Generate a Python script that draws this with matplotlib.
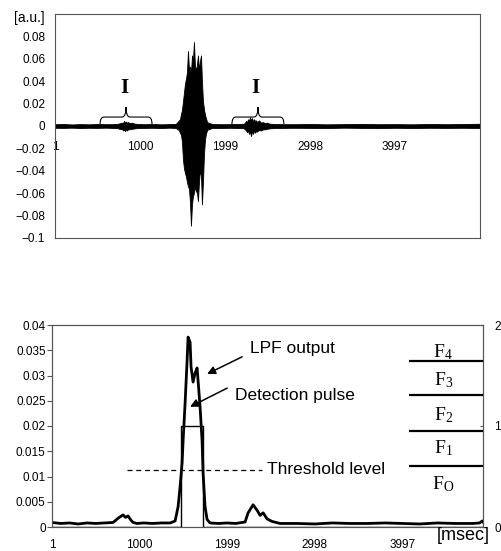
import matplotlib
matplotlib.use("Agg")
import matplotlib.pyplot as plt
from matplotlib.path import Path
from matplotlib.patches import PathPatch

plt.rcParams['font.family'] = ['Liberation Sans', 'DejaVu Sans']
plt.rcParams['mathtext.fontset'] = 'custom'
plt.rcParams['mathtext.rm'] = 'Liberation Serif'
plt.rcParams['mathtext.it'] = 'Liberation Serif'
plt.rcParams['axes.unicode_minus'] = True

# ---------------- data: top waveform envelope ----------------
wave_x = [1, 100, 200, 300, 400, 500, 600, 700,
          741, 765, 788, 800, 812, 824, 835, 847, 859, 882, 906, 930, 953, 977,
          1050, 1150, 1250, 1350, 1420,
          1446, 1458, 1470, 1482, 1493, 1505, 1517, 1529, 1540, 1552, 1564, 1576,
          1587, 1599, 1611, 1622, 1634, 1646, 1658, 1670, 1681, 1693, 1705, 1717,
          1728, 1740, 1752, 1764, 1775, 1787, 1799,
          1850, 1950, 2050, 2150, 2220,
          2234, 2246, 2258, 2270, 2281, 2293, 2305, 2317, 2328, 2340, 2352, 2364, 2375, 2399, 2422, 2446, 2469, 2493, 2516, 2540,
          2600, 2800, 3000, 3200, 3400, 3600, 3800, 4000, 4200, 4400, 4600, 4800, 4996]
wave_hi = [0.0016, 0.0018, 0.0014, 0.0017, 0.0015, 0.0018, 0.0016, 0.0017,
           0.002, 0.0025, 0.003, 0.0025, 0.0045, 0.003, 0.004, 0.0028, 0.0035, 0.0025, 0.003, 0.0022, 0.002, 0.0018,
           0.0016, 0.0018, 0.0015, 0.0017, 0.0018,
           0.004, 0.005, 0.006, 0.011, 0.014, 0.022, 0.030, 0.038, 0.042, 0.048, 0.067, 0.050,
           0.053, 0.048, 0.063, 0.058, 0.075, 0.053, 0.050, 0.055, 0.063, 0.050, 0.058, 0.063,
           0.040, 0.022, 0.015, 0.010, 0.007, 0.004, 0.003,
           0.0018, 0.0016, 0.0017, 0.0018, 0.002,
           0.003, 0.0045, 0.0035, 0.006, 0.0045, 0.008, 0.005, 0.007, 0.004, 0.006, 0.0045, 0.005, 0.0035, 0.005, 0.003, 0.0035, 0.0025, 0.003, 0.0022, 0.002,
           0.0017, 0.0016, 0.0018, 0.0015, 0.0017, 0.0019, 0.0016, 0.0017, 0.0015, 0.0018, 0.0016, 0.0018, 0.002]
wave_lo = [-0.0016, -0.0017, -0.0015, -0.0018, -0.0016, -0.0017, -0.0015, -0.0018,
           -0.002, -0.0028, -0.0025, -0.004, -0.003, -0.0045, -0.0032, -0.004, -0.003, -0.0028, -0.0025, -0.0022, -0.002, -0.0018,
           -0.0017, -0.0016, -0.0018, -0.0015, -0.0018,
           -0.003, -0.004, -0.006, -0.008, -0.014, -0.030, -0.038, -0.042, -0.045, -0.050, -0.054, -0.056,
           -0.068, -0.089, -0.070, -0.063, -0.060, -0.054, -0.058, -0.060, -0.067, -0.050, -0.039, -0.045,
           -0.070, -0.050, -0.025, -0.012, -0.007, -0.004, -0.003,
           -0.0017, -0.0018, -0.0016, -0.0018, -0.002,
           -0.003, -0.004, -0.0055, -0.004, -0.007, -0.005, -0.009, -0.0045, -0.007, -0.004, -0.006, -0.0045, -0.005, -0.0035, -0.004, -0.003, -0.003, -0.0025, -0.0022, -0.002,
           -0.0018, -0.0016, -0.0017, -0.0018, -0.0015, -0.0017, -0.0019, -0.0016, -0.0018, -0.0016, -0.0017, -0.0016, -0.0018]

# braces and markers (top)
brace_centers = [836, 2386]
brace_halfwidth = 305
brace_levels = (0.0018, 0.008, 0.017)   # tip, flat, peak
marker_x = [812, 2351]
marker_y = 0.034

x_ticks = [1, 1000, 1999, 2998, 3997]
x_ticklabels = ['1', '1000', '1999', '2998', '3997']
top_yticks = [-0.1, -0.08, -0.06, -0.04, -0.02, 0, 0.02, 0.04, 0.06, 0.08]
top_yticklabels = ['\u22120.1', '\u22120.08', '\u22120.06', '\u22120.04', '\u22120.02', '0',
                   '0.02', '0.04', '0.06', '0.08']

# ---------------- data: bottom LPF output ----------------
lpf_x = [1, 100, 200, 300, 400, 500, 600, 698, 760, 812, 840, 869, 900, 926, 972,
         1050, 1150, 1250, 1350, 1406, 1440, 1463, 1486, 1497, 1520, 1543, 1554, 1577,
         1588, 1611, 1634, 1657, 1668, 1691, 1714, 1725, 1748, 1771, 1805,
         1900, 2000, 2100, 2205, 2239, 2296, 2342, 2376, 2411, 2456, 2513, 2605,
         2800, 3000, 3200, 3400, 3600, 3800, 4000, 4200, 4400, 4600, 4800, 4880, 4912, 4920]
lpf_y = [0.0009, 0.0007, 0.0008, 0.0006, 0.0008, 0.0007, 0.0008, 0.0009, 0.0018, 0.0024, 0.0019, 0.0022, 0.0014, 0.0009, 0.0007,
         0.0008, 0.0007, 0.0008, 0.0008, 0.0012, 0.004, 0.008, 0.0127, 0.017, 0.0245, 0.033, 0.0376, 0.0366,
         0.0317, 0.0287, 0.0305, 0.0315, 0.029, 0.0238, 0.017, 0.0107, 0.004, 0.0015, 0.0008,
         0.0007, 0.0008, 0.0007, 0.001, 0.0028, 0.0044, 0.0033, 0.0023, 0.0028, 0.0016, 0.0011, 0.0007,
         0.0007, 0.0006, 0.0008, 0.0007, 0.0007, 0.0008, 0.0007, 0.0006, 0.0008, 0.0007, 0.0007, 0.0008, 0.0012, 0.001]

pulse_x = [1, 1470, 1729, 4920]
pulse_level = [0, 1, 0, 0]

threshold_value = 0.0113
threshold_span = (858, 2400)

bot_yticks = [0, 0.005, 0.01, 0.015, 0.02, 0.025, 0.03, 0.035, 0.04]
bot_yticklabels = ['0', '0.005', '0.01', '0.015', '0.02', '0.025', '0.03', '0.035', '0.04']
right_yticks = [0, 1, 2]

f_labels = [r'$\mathrm{F}_{\mathrm{O}}$', r'$\mathrm{F}_{1}$', r'$\mathrm{F}_{2}$',
            r'$\mathrm{F}_{3}$', r'$\mathrm{F}_{4}$']
f_label_levels = [0.42, 0.78, 1.11, 1.455, 1.73]
f_line_levels = [0.604, 0.95, 1.307, 1.644]
f_label_x = 4466
f_line_start = 4078

# ---------------- figure ----------------
W, H = 502, 551
fig = plt.figure(figsize=(W / 100, H / 100), dpi=100)
spine_col = '#555555'

# top axes
ax1 = fig.add_axes([55 / W, 1 - 238 / H, 425 / W, 224 / H])
ax1.fill_between(wave_x, wave_lo, wave_hi, color='black', lw=0.6, edgecolor='black')
ax1.set_xlim(1, 4996)
ax1.set_ylim(-0.1, 0.1)
ax1.set_yticks(top_yticks)
ax1.set_yticklabels(top_yticklabels)
ax1.tick_params(axis='y', length=0, pad=7, labelsize=8.5)
ax1.set_xticks([])
for s in ax1.spines.values():
    s.set_color(spine_col)
    s.set_linewidth(0.8)
sec = ax1.secondary_xaxis(0.5)
sec.set_alignment('bottom')
sec.set_xticks(x_ticks)
sec.set_xticklabels(x_ticklabels)
sec.tick_params(axis='x', length=0, pad=11, labelsize=8.5)
for s in sec.spines.values():
    s.set_visible(False)

yt, yf, yp = brace_levels
rx = 47
for cx in brace_centers:
    x0 = cx - brace_halfwidth
    x1 = cx + brace_halfwidth
    verts = [(x0, yt), (x0, yf), (x0 + rx, yf),
             (cx - rx, yf), (cx, yf), (cx, yp),
             (cx, yf), (cx + rx, yf),
             (x1 - rx, yf), (x1, yf), (x1, yt)]
    codes = [Path.MOVETO, Path.CURVE3, Path.CURVE3,
             Path.LINETO, Path.CURVE3, Path.CURVE3,
             Path.CURVE3, Path.CURVE3,
             Path.LINETO, Path.CURVE3, Path.CURVE3]
    ax1.add_patch(PathPatch(Path(verts, codes), fill=False, lw=0.8, color='black'))
for mx in marker_x:
    ax1.text(mx, marker_y, 'I', family=['Liberation Serif'], weight='bold', fontsize=15,
             ha='center', va='center')

fig.text(45 / W, 1 - 18 / H, '[a.u.]', ha='right', va='center', fontsize=10)

# bottom axes
ax2 = fig.add_axes([52 / W, 1 - 527 / H, 431 / W, 202 / H])
ax2r = ax2.twinx()
ax2r.plot(pulse_x, pulse_level, drawstyle='steps-post', color='black', lw=1.0, zorder=2)
ax2.plot(lpf_x, lpf_y, color='black', lw=2.0, zorder=3)
ax2.plot(threshold_span, [threshold_value, threshold_value], color='black', lw=0.9,
         linestyle=(0, (4, 3)))
ax2.set_xlim(1, 4920)
ax2.set_ylim(0, 0.04)
ax2r.set_ylim(0, 2)
ax2.set_yticks(bot_yticks)
ax2.set_yticklabels(bot_yticklabels)
ax2.tick_params(axis='y', length=3.5, pad=1, labelsize=8.5, direction='out', color=spine_col)
ax2.set_xticks(x_ticks)
ax2.set_xticklabels(x_ticklabels)
ax2.tick_params(axis='x', length=0, pad=8.5, labelsize=8.5)
ax2r.set_yticks(right_yticks)
ax2r.tick_params(axis='y', length=2.5, direction='in', pad=8, labelsize=8.5, color=spine_col)
for a in (ax2, ax2r):
    for s in a.spines.values():
        s.set_color(spine_col)
        s.set_linewidth(0.8)

for lvl in f_line_levels:
    ax2r.plot([f_line_start, 4920], [lvl, lvl], color='black', lw=1.6, solid_capstyle='butt')
for lab, lvl in zip(f_labels, f_label_levels):
    ax2r.text(f_label_x, lvl, lab, fontsize=14, ha='center', va='center')

ax2.text(2262, 0.0354, 'LPF output', fontsize=12.5, ha='left', va='center')
ax2.text(2091, 0.0261, 'Detection pulse', fontsize=12.5, ha='left', va='center')
ax2.text(2456, 0.0113, 'Threshold level', fontsize=12.5, ha='left', va='center')
arrow = dict(arrowstyle='-|>', color='black', lw=1.1, mutation_scale=12, shrinkA=0, shrinkB=0)
ax2.annotate('', xy=(1771, 0.0303), xytext=(2171, 0.0337), arrowprops=arrow)
ax2.annotate('', xy=(1577, 0.0238), xytext=(2000, 0.0275), arrowprops=arrow)

fig.text(490 / W, 1 - 536 / H, '[msec]', ha='right', va='center', fontsize=13)

fig.savefig('out.png', dpi=100)
